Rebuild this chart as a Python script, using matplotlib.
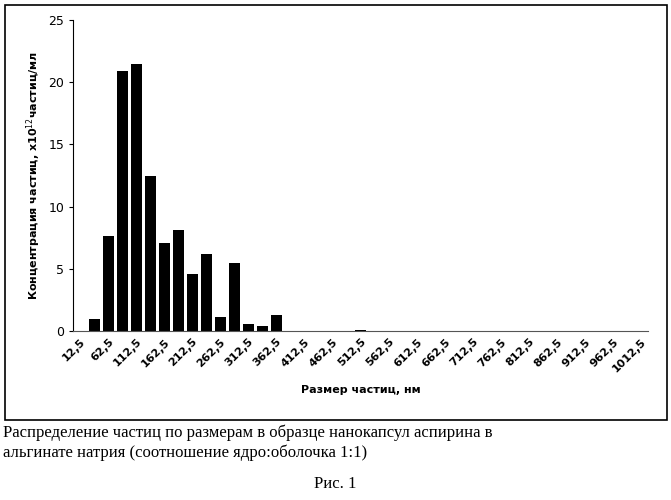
import matplotlib
matplotlib.use("Agg")
import matplotlib.pyplot as plt
import numpy as np

sizes = [12.5 + 25*i for i in range(41)]
values = [0, 1.0, 7.6, 20.9, 21.5, 12.5, 7.1, 8.1, 4.6, 6.2, 1.1, 5.5, 0.55, 0.4, 1.3,
          0.02, 0.02, 0.02, 0.02, 0.02, 0.06] + [0.01]*20
labels = [f"{s:g}".replace(".", ",") for s in sizes]

fig = plt.figure(figsize=(6.71, 5.0), dpi=100)
ax = fig.add_axes([0.109, 0.338, 0.857, 0.622])
x = np.arange(len(sizes))
ax.bar(x, values, width=0.8, color="black")
ax.set_xlim(-0.5, len(sizes) - 0.5)
ax.set_ylim(0, 25)
ax.set_yticks([0, 5, 10, 15, 20, 25])
ax.set_xticks(x[::2])
ax.set_xticklabels(labels[::2], rotation=45, ha="right", rotation_mode="anchor",
                   fontsize=8, fontweight="bold")
ax.tick_params(axis="x", length=0, pad=4)
ax.tick_params(axis="y", labelsize=9, length=3)
for s in ["top", "right"]:
    ax.spines[s].set_visible(False)
ax.spines["bottom"].set_color("#555555")
ax.set_xlabel("Размер частиц, нм", fontsize=8, fontweight="bold", labelpad=8)
ax.set_ylabel("Концентрация частиц, x10$^{12}$частиц/мл", fontsize=8, fontweight="bold")

fig.add_artist(plt.Rectangle((0.008, 0.16), 0.986, 0.83, transform=fig.transFigure,
                             fill=False, edgecolor="black", lw=1.2))
fig.text(0.005, 0.115, "Распределение частиц по размерам в образце нанокапсул аспирина в\nальгинате натрия (соотношение ядро:оболочка 1:1)",
         family="Liberation Serif", fontsize=12, va="center", linespacing=1.3)
fig.text(0.5, 0.025, "Рис. 1", family="Liberation Serif", fontsize=12, ha="center")
fig.savefig("out.png", dpi=100)
